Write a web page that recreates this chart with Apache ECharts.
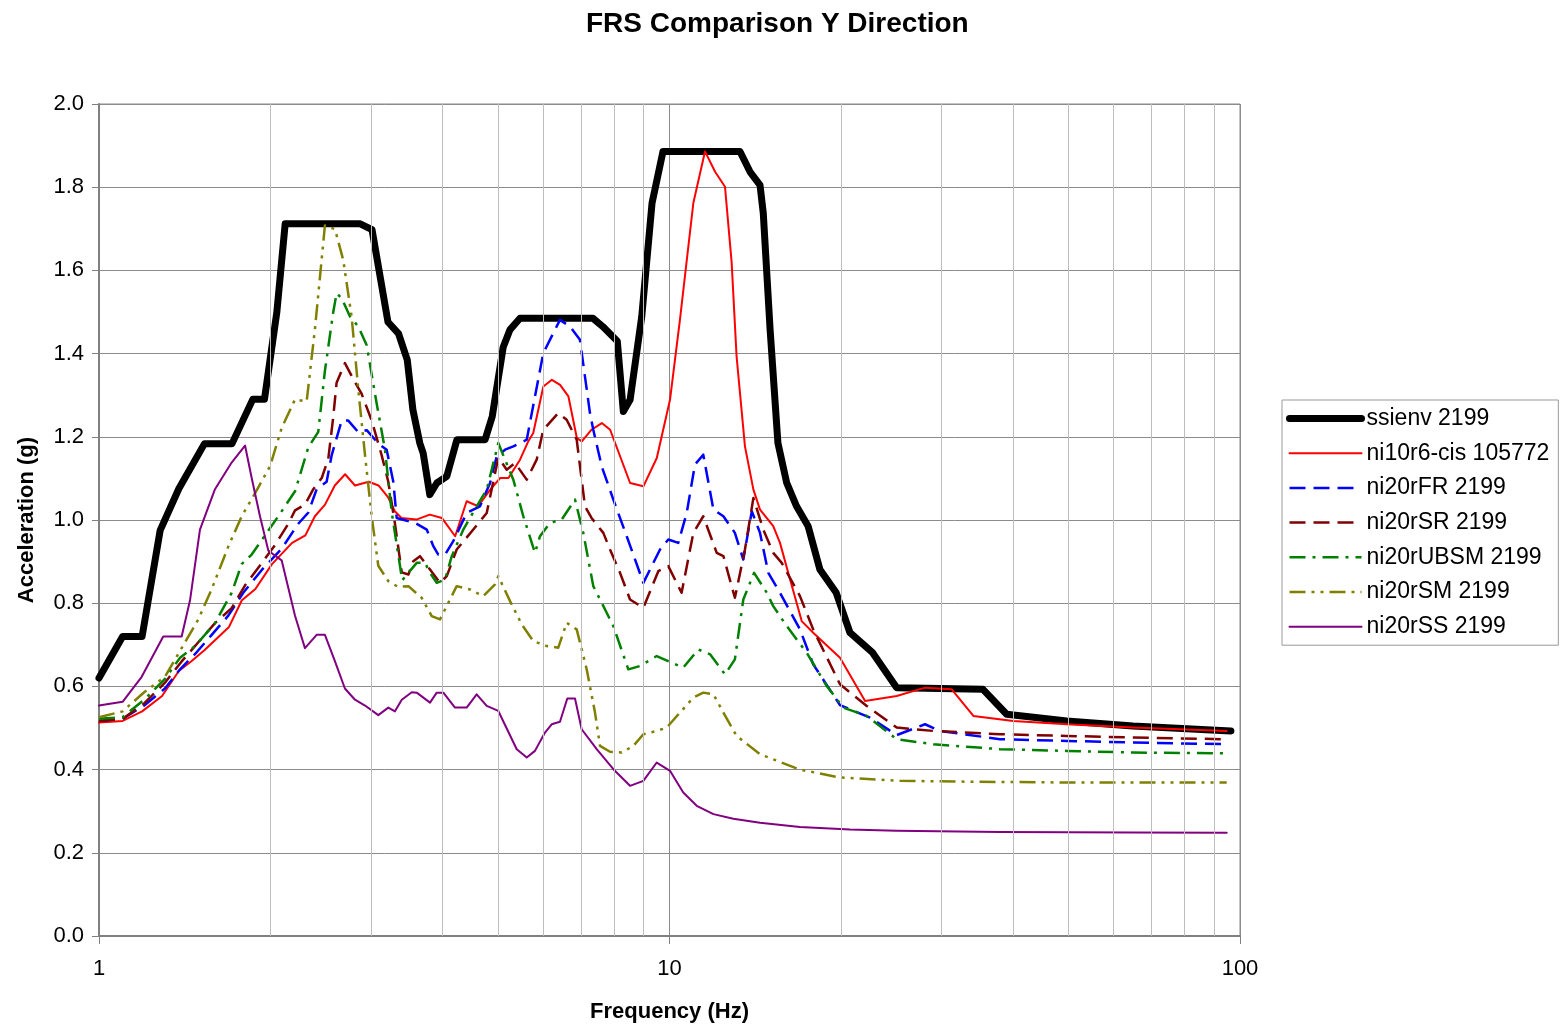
<!DOCTYPE html>
<html><head><meta charset="utf-8">
<script src="https://cdn.jsdelivr.net/npm/echarts@6/dist/echarts.min.js"></script>
<style>html,body{margin:0;padding:0;background:#fff}#c{width:1564px;height:1028px}</style>
</head><body><div id="c"></div>
<script>
// [frequency (Hz), acceleration (g)]
const ssienv = [[1.0,0.62],[1.10,0.72],[1.19,0.72],[1.28,0.975],[1.38,1.075],[1.53,1.183],[1.71,1.183],[1.86,1.29],[1.95,1.29],[2.05,1.50],[2.12,1.712],[2.87,1.712],[3.01,1.698],[3.21,1.476],[3.35,1.448],[3.47,1.385],[3.55,1.265],[3.65,1.185],[3.70,1.161],[3.80,1.061],[3.91,1.089],[4.07,1.105],[4.24,1.193],[4.75,1.193],[4.89,1.249],[5.11,1.415],[5.25,1.457],[5.47,1.485],[7.34,1.485],[7.64,1.465],[8.10,1.43],[8.30,1.261],[8.53,1.289],[8.94,1.489],[9.32,1.762],[9.74,1.886],[13.29,1.886],[13.84,1.837],[14.41,1.805],[14.60,1.738],[15.01,1.457],[15.49,1.185],[16.05,1.089],[16.70,1.033],[17.5,0.985],[18.35,0.881],[19.6,0.825],[20.72,0.729],[22.7,0.681],[25.02,0.597],[35.44,0.593],[38.99,0.533],[49.69,0.517],[64.92,0.505],[96.4,0.493]];
const ni10r6cis = [[1.0,0.513],[1.10,0.517],[1.19,0.540],[1.29,0.577],[1.38,0.637],[1.45,0.660],[1.53,0.687],[1.69,0.743],[1.78,0.807],[1.88,0.834],[2.01,0.894],[2.18,0.945],[2.30,0.963],[2.39,1.009],[2.49,1.037],[2.59,1.083],[2.70,1.110],[2.81,1.083],[2.97,1.092],[3.09,1.083],[3.21,1.055],[3.30,1.021],[3.39,1.005],[3.60,1.001],[3.80,1.013],[3.99,1.005],[4.21,0.961],[4.41,1.045],[4.62,1.033],[4.85,1.073],[5.05,1.101],[5.22,1.101],[5.47,1.145],[5.66,1.19],[5.77,1.209],[6.01,1.321],[6.22,1.337],[6.43,1.325],[6.65,1.297],[6.88,1.197],[7.02,1.189],[7.30,1.217],[7.61,1.233],[7.87,1.217],[8.53,1.089],[9.00,1.081],[9.50,1.149],[10.02,1.289],[10.43,1.481],[11.01,1.762],[11.54,1.886],[12.02,1.837],[12.51,1.801],[12.85,1.62],[13.11,1.393],[13.56,1.177],[14.03,1.073],[14.41,1.025],[15.2,0.985],[15.62,0.945],[16.27,0.857],[17.05,0.757],[17.86,0.729],[19.9,0.669],[22.02,0.565],[25.02,0.577],[28.05,0.597],[31.24,0.593],[34.09,0.529],[40.05,0.517],[49.69,0.509],[64.92,0.501],[94.78,0.493]];
const ni20rFR = [[1.0,0.517],[1.10,0.522],[1.20,0.554],[1.305,0.595],[1.387,0.641],[1.474,0.678],[1.576,0.724],[1.685,0.770],[1.79,0.825],[1.929,0.880],[2.09,0.931],[2.235,0.991],[2.328,1.018],[2.407,1.074],[2.506,1.092],[2.558,1.156],[2.663,1.239],[2.735,1.239],[2.848,1.211],[2.946,1.216],[3.087,1.184],[3.193,1.169],[3.28,1.092],[3.325,1.005],[3.58,0.993],[3.754,0.977],[3.855,0.937],[3.933,0.917],[4.042,0.917],[4.178,0.949],[4.41,1.017],[4.654,1.033],[4.847,1.089],[4.979,1.153],[5.149,1.169],[5.324,1.177],[5.62,1.193],[6.008,1.401],[6.427,1.481],[6.692,1.465],[6.967,1.433],[7.254,1.257],[7.352,1.217],[7.606,1.129],[7.972,1.049],[8.414,0.961],[8.998,0.849],[9.625,0.929],[9.952,0.953],[10.36,0.945],[10.72,1.017],[11.08,1.133],[11.46,1.157],[11.94,1.025],[12.43,1.009],[13.02,0.969],[13.47,0.905],[13.94,1.021],[14.41,0.969],[14.9,0.873],[15.62,0.825],[16.93,0.737],[17.86,0.653],[19.9,0.555],[22.46,0.525],[25.02,0.483],[28.05,0.509],[29.79,0.493],[37.96,0.473],[49.69,0.469],[64.92,0.465],[94.78,0.461]];
const ni20rSR = [[1.0,0.517],[1.10,0.522],[1.20,0.559],[1.305,0.609],[1.396,0.660],[1.493,0.706],[1.597,0.752],[1.708,0.788],[1.803,0.843],[1.902,0.885],[2.035,0.940],[2.147,0.991],[2.206,1.023],[2.296,1.037],[2.375,1.074],[2.457,1.101],[2.523,1.147],[2.574,1.248],[2.609,1.330],[2.698,1.377],[2.81,1.331],[2.887,1.303],[3.006,1.239],[3.129,1.156],[3.214,1.092],[3.302,0.991],[3.394,0.874],[3.486,0.869],[3.556,0.901],[3.653,0.913],[3.804,0.881],[3.96,0.849],[4.07,0.865],[4.236,0.929],[4.53,0.977],[4.782,1.017],[5.011,1.150],[5.184,1.121],[5.361,1.137],[5.62,1.097],[5.85,1.145],[6.008,1.217],[6.383,1.257],[6.603,1.241],[6.876,1.193],[7.11,1.033],[7.30,1.005],[7.656,0.969],[7.866,0.929],[8.19,0.873],[8.527,0.809],[8.998,0.789],[9.559,0.877],[9.952,0.889],[10.5,0.825],[11.01,0.969],[11.46,1.009],[12.1,0.921],[12.43,0.913],[13.02,0.813],[13.56,0.929],[14.03,1.053],[14.6,0.977],[15.2,0.921],[15.73,0.897],[16.93,0.817],[17.86,0.737],[19.9,0.605],[22.17,0.553],[25.02,0.501],[29.0,0.493],[37.96,0.485],[49.69,0.481],[64.92,0.477],[94.78,0.473]];
const ni20rUBSM = [[1.0,0.522],[1.10,0.526],[1.20,0.568],[1.305,0.618],[1.387,0.669],[1.474,0.697],[1.597,0.752],[1.708,0.825],[1.779,0.894],[1.852,0.917],[1.954,0.963],[2.062,1.009],[2.206,1.069],[2.328,1.175],[2.423,1.212],[2.489,1.359],[2.574,1.50],[2.609,1.545],[2.663,1.533],[2.754,1.489],[2.848,1.465],[2.946,1.42],[3.067,1.28],[3.171,1.17],[3.258,1.02],[3.40,0.855],[3.486,0.873],[3.605,0.897],[3.728,0.897],[3.804,0.873],[3.908,0.849],[4.042,0.857],[4.153,0.913],[4.351,0.977],[4.592,1.033],[4.782,1.073],[4.945,1.153],[5.011,1.185],[5.149,1.145],[5.324,1.097],[5.543,1.009],[5.81,0.921],[5.929,0.961],[6.172,0.993],[6.472,1.001],[6.829,1.049],[7.061,0.969],[7.352,0.841],[7.761,0.777],[7.972,0.745],[8.469,0.641],[8.878,0.649],[9.497,0.673],[10.09,0.657],[10.57,0.645],[11.23,0.689],[11.78,0.677],[12.51,0.629],[13.02,0.665],[13.47,0.809],[14.07,0.873],[14.81,0.825],[15.2,0.793],[16.05,0.745],[17.4,0.681],[18.86,0.601],[20.17,0.549],[22.17,0.529],[25.02,0.473],[29.0,0.461],[37.96,0.449],[49.69,0.445],[64.92,0.441],[94.78,0.439]];
const ni20rSM = [[1.0,0.526],[1.10,0.540],[1.20,0.586],[1.305,0.623],[1.415,0.706],[1.493,0.761],[1.576,0.834],[1.685,0.936],[1.779,1.009],[1.877,1.064],[1.994,1.129],[2.09,1.221],[2.206,1.290],[2.312,1.285],[2.391,1.460],[2.489,1.708],[2.592,1.699],[2.68,1.625],[2.773,1.487],[2.848,1.313],[2.926,1.156],[3.006,1.009],[3.087,0.890],[3.214,0.853],[3.347,0.839],[3.486,0.841],[3.678,0.813],[3.83,0.769],[3.96,0.761],[4.124,0.809],[4.236,0.841],[4.47,0.833],[4.716,0.817],[4.945,0.845],[5.011,0.865],[5.254,0.805],[5.508,0.749],[5.771,0.709],[6.092,0.697],[6.383,0.693],[6.603,0.753],[6.876,0.737],[7.159,0.641],[7.403,0.537],[7.554,0.457],[7.866,0.443],[8.247,0.441],[8.642,0.457],[8.998,0.485],[9.497,0.493],[9.888,0.501],[10.43,0.537],[11.01,0.573],[11.46,0.585],[11.94,0.581],[12.43,0.537],[13.11,0.481],[14.41,0.437],[16.93,0.40],[19.9,0.381],[25.35,0.373],[33.19,0.371],[49.69,0.369],[94.78,0.369]];
const ni20rSS = [[1.0,0.554],[1.10,0.563],[1.188,0.623],[1.296,0.720],[1.396,0.720],[1.444,0.807],[1.503,0.977],[1.597,1.074],[1.708,1.138],[1.803,1.179],[1.852,1.101],[1.915,1.009],[1.981,0.926],[2.09,0.903],[2.206,0.770],[2.296,0.692],[2.407,0.724],[2.489,0.724],[2.592,0.660],[2.698,0.595],[2.81,0.568],[2.926,0.554],[3.087,0.531],[3.214,0.549],[3.302,0.540],[3.394,0.568],[3.533,0.586],[3.605,0.585],[3.804,0.561],[3.908,0.585],[4.014,0.585],[4.207,0.549],[4.41,0.549],[4.592,0.581],[4.782,0.553],[5.011,0.541],[5.398,0.449],[5.62,0.429],[5.81,0.445],[6.05,0.489],[6.215,0.509],[6.427,0.515],[6.62,0.571],[6.829,0.571],[7.015,0.497],[7.454,0.449],[7.972,0.401],[8.527,0.361],[8.998,0.373],[9.497,0.417],[10.02,0.397],[10.57,0.345],[11.16,0.313],[11.94,0.293],[12.94,0.282],[14.41,0.272],[16.93,0.262],[20.72,0.256],[25.02,0.253],[37.96,0.250],[64.92,0.249],[94.78,0.248]];

const seriesNames = ['ssienv 2199','ni10r6-cis 105772','ni20rFR 2199','ni20rSR 2199','ni20rUBSM 2199','ni20rSM 2199','ni20rSS 2199'];
const minorGridFreqs = [2,3,4,5,6,7,8,9,20,30,40,50,60,70,80,90];
const xTickLabels = ['1','10','100'];

const FONT = '"Liberation Sans", Arial, sans-serif';
const chart = echarts.init(document.getElementById('c'), null, {renderer: 'canvas'});

function mk(name, data, color, width, dash, round) {
  return {
    name: name, type: 'line', data: data, symbol: 'none', showSymbol: false, smooth: false,
    lineStyle: {color: color, width: width, type: dash, cap: round ? 'round' : 'butt', join: 'round'},
    itemStyle: {color: color}, z: 3, emphasis: {disabled: true}
  };
}

chart.setOption({
  animation: false,
  backgroundColor: '#fff',
  title: {
    text: 'FRS Comparison Y Direction', left: 581, top: 5,
    textStyle: {fontFamily: FONT, fontSize: 28, fontWeight: 'bold', color: '#000'}
  },
  grid: {left: 99, top: 104, width: 1141, height: 833, show: true, borderColor: '#888', borderWidth: 1, backgroundColor: 'transparent'},
  legend: {
    data: seriesNames, orient: 'vertical', left: 1282, top: 400,
    padding: [7, 9, 7, 4], itemWidth: 72, itemHeight: 14, itemGap: 11.7,
    borderColor: '#999', borderWidth: 1, backgroundColor: '#fff',
    itemStyle: {opacity: 0},
    lineStyle: {width: 'inherit'},
    textStyle: {fontFamily: FONT, fontSize: 23, color: '#000', lineHeight: 22},
    selectedMode: false
  },
  xAxis: {
    type: 'log', logBase: 10, min: 1, max: 100,
    name: 'Frequency (Hz)', nameLocation: 'middle', nameGap: 65,
    nameTextStyle: {fontFamily: FONT, fontSize: 22, fontWeight: 'bold', color: '#000'},
    axisLine: {show: true, onZero: false, lineStyle: {color: '#808080', width: 2}},
    axisTick: {show: true, length: 8, lineStyle: {color: '#808080'}},
    axisLabel: {fontFamily: FONT, fontSize: 22, color: '#000', margin: 22, formatter: function (v) { const s = String(Math.round(v)); return xTickLabels.indexOf(s) >= 0 ? s : ''; }},
    splitLine: {show: true, lineStyle: {color: '#8c8c8c', width: 1}},
    minorTick: {show: false}, minorSplitLine: {show: false}
  },
  yAxis: {
    type: 'value', min: 0, max: 2, interval: 0.2,
    name: 'Acceleration (g)', nameLocation: 'middle', nameGap: 61, nameRotate: 90,
    nameTextStyle: {fontFamily: FONT, fontSize: 22, fontWeight: 'bold', color: '#000'},
    axisLine: {show: true, lineStyle: {color: '#808080', width: 2}},
    axisTick: {show: true, length: 7, lineStyle: {color: '#808080'}},
    axisLabel: {fontFamily: FONT, fontSize: 22, color: '#000', margin: 15, formatter: function (v) { return v.toFixed(1); }},
    splitLine: {show: true, lineStyle: {color: '#8c8c8c', width: 1}}
  },
  series: [
    {
      name: '_grid', type: 'line', data: [], z: 1, silent: true, symbol: 'none',
      markLine: {
        silent: true, symbol: ['none', 'none'], label: {show: false},
        lineStyle: {color: '#bdbdbd', width: 1, type: 'solid'},
        emphasis: {disabled: true},
        data: minorGridFreqs.map(function (f) { return {xAxis: f}; })
      }
    },
    mk(seriesNames[0], ssienv, '#000000', 7, 'solid', true),
    mk(seriesNames[1], ni10r6cis, '#ff0000', 2, 'solid', true),
    mk(seriesNames[2], ni20rFR, '#0000ff', 2.5, [16, 8], false),
    mk(seriesNames[3], ni20rSR, '#800000', 2.5, [16, 8], false),
    mk(seriesNames[4], ni20rUBSM, '#008000', 2.5, [16, 7, 3, 7], false),
    mk(seriesNames[5], ni20rSM, '#808000', 2.5, [16, 6, 3, 6, 3, 6], false),
    mk(seriesNames[6], ni20rSS, '#800080', 2, 'solid', true)
  ]
});
</script></body></html>
